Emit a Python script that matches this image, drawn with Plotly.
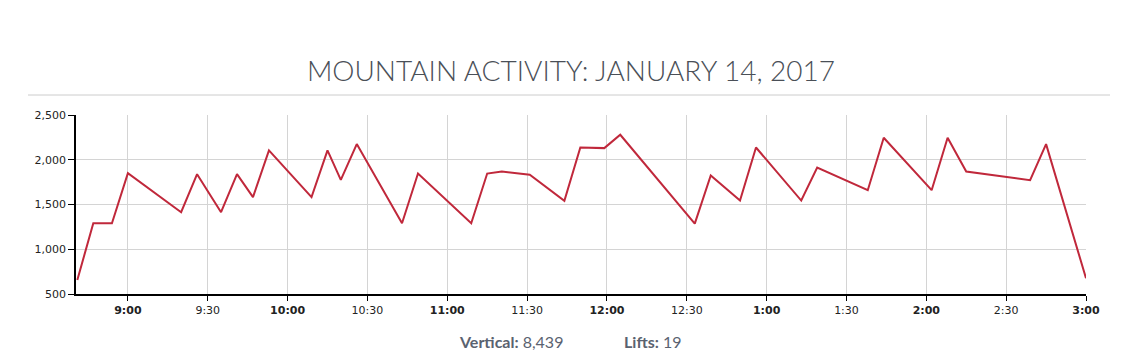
import plotly.graph_objects as go

DAY = "2017-01-14"
times = ["08:41", "08:47", "08:54", "09:00", "09:20", "09:26", "09:35", "09:41", "09:47",
         "09:53", "10:09", "10:15", "10:20", "10:26", "10:43", "10:49", "11:09", "11:15",
         "11:20:30", "11:31", "11:44", "11:50", "11:59", "12:05", "12:33", "12:39", "12:50",
         "12:56", "13:13", "13:19", "13:38", "13:44", "14:02", "14:08", "14:15", "14:39",
         "14:45", "15:00"]
values = [657, 1291, 1291, 1851, 1414, 1839, 1414, 1839, 1582,
          2104, 1582, 2104, 1776, 2175, 1291, 1846, 1291, 1846,
          1869, 1832, 1541, 2137, 2130, 2279, 1287, 1824, 1544,
          2137, 1544, 1913, 1660, 2246, 1660, 2245, 1869, 1772,
          2175, 676]

tick_times = ["09:00", "09:30", "10:00", "10:30", "11:00", "11:30", "12:00", "12:30",
              "13:00", "13:30", "14:00", "14:30", "15:00"]
tick_labels = ["<b>9:00</b>", "9:30", "<b>10:00</b>", "10:30", "<b>11:00</b>", "11:30",
               "<b>12:00</b>", "12:30", "<b>1:00</b>", "1:30", "<b>2:00</b>", "2:30", "<b>3:00</b>"]
y_ticks = [500, 1000, 1500, 2000, 2500]

title_text = "MOUNTAIN ACTIVITY: JANUARY 14, 2017"
vertical_total = "8,439"
lifts_total = "19"

x = [f"{DAY} {t}" for t in times]

# page body has an 8px margin; figure sized to fit the visible window
W, H = 1126, 353
L, R, T, B = 68, 48, 107, 67
PW, PH = W - L - R, H - T - B

fig = go.Figure()
fig.add_trace(go.Scatter(x=x, y=values, mode="lines",
                         line=dict(color="#c0283b", width=2), hoverinfo="x+y"))

fig.update_layout(
    width=W, height=H,
    margin=dict(l=L, r=R, t=T, b=B, autoexpand=False),
    paper_bgcolor="white", plot_bgcolor="white",
    showlegend=False,
    title=dict(text=title_text, x=0.5, xanchor="center", y=1 - 63 / H, yanchor="middle",
               font=dict(family="Lato", size=28, color="#4a4f57", weight=300)),
    xaxis=dict(
        type="date",
        range=[f"{DAY} 08:40:30", f"{DAY} 15:00:00"],
        tickvals=[f"{DAY} {t}" for t in tick_times],
        ticktext=tick_labels,
        showgrid=True, gridcolor="#d4d4d4", gridwidth=1,
        showline=True, linecolor="black", linewidth=1.5,
        ticks="outside", ticklen=5, tickcolor="black",
        tickfont=dict(family="DejaVu Sans", size=11, color="#222"),
        zeroline=False, automargin=False,
    ),
    yaxis=dict(
        range=[500, 2500],
        tickvals=y_ticks,
        tickformat=",",
        showgrid=True, gridcolor="#d4d4d4", gridwidth=1,
        showline=True, linecolor="black", linewidth=1.5,
        ticks="outside", ticklen=6, tickcolor="black",
        tickfont=dict(family="DejaVu Sans", size=11, color="#222"),
        zeroline=False, automargin=False,
    ),
    shapes=[dict(type="line", xref="paper", yref="paper",
                 x0=-48 / PW, x1=1 + 24 / PW, y0=1 + 20 / PH, y1=1 + 20 / PH,
                 line=dict(color="#cccccc", width=1))],
    annotations=[
        dict(text=f"<b>Vertical:</b> {vertical_total}", xref="paper", yref="paper",
             x=381 / PW, y=-47 / PH, xanchor="left", yanchor="middle",
             showarrow=False, font=dict(family="Lato", size=16, color="#5a6270")),
        dict(text=f"<b>Lifts:</b> {lifts_total}", xref="paper", yref="paper",
             x=546 / PW, y=-47 / PH, xanchor="left", yanchor="middle",
             showarrow=False, font=dict(family="Lato", size=16, color="#5a6270")),
    ],
)

fig.write_html("out.html")
